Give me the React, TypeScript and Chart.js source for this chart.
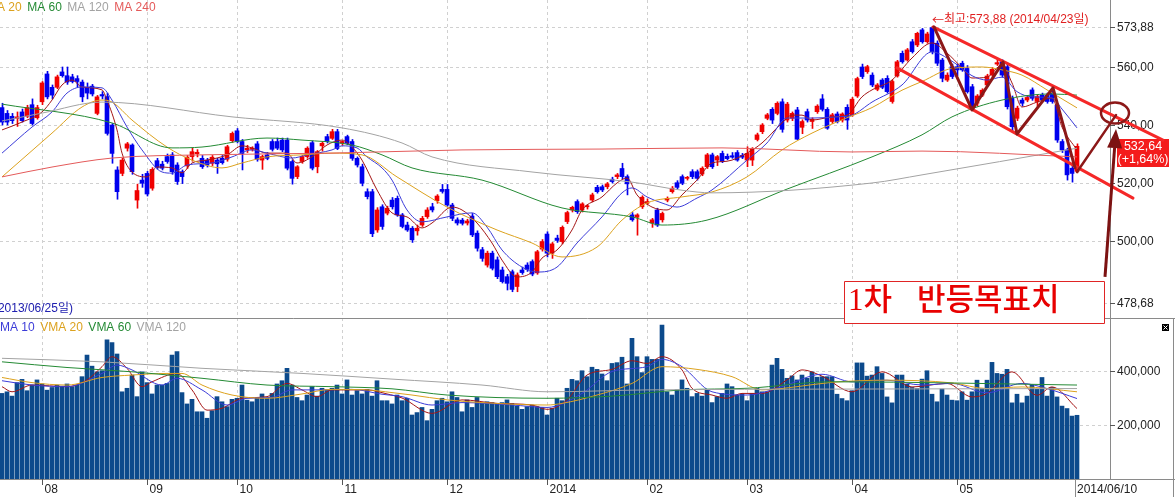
import React, { useEffect, useRef } from 'react';
import { Chart, registerables } from 'chart.js';

Chart.register(...registerables);

// ---------------- data (daily candles, 216 sessions) ----------------
const openP = [
  546.0, 544.0, 543.0, 542.3, 544.5, 543.0, 547.0, 542.5, 548.0, 557.6,
  553.0, 553.0, 558.3, 557.0, 556.6, 556.0, 554.8, 553.0, 553.4, 544.0,
  550.5, 549.8, 540.0, 524.5, 523.3, 532.0, 533.1, 514.1, 521.0, 523.3,
  518.2, 527.7, 526.5, 529.1, 529.7, 526.2, 523.9, 525.9, 529.1, 530.1,
  528.5, 527.9, 526.8, 527.9, 528.5, 528.2, 534.6, 538.0, 534.3, 531.4,
  531.6, 533.5, 527.9, 529.7, 534.3, 534.3, 534.8, 534.8, 527.4, 522.2,
  527.4, 529.1, 533.9, 525.6, 532.8, 536.0, 535.4, 537.7, 533.7, 536.0,
  534.3, 528.5, 525.6, 517.0, 517.0, 503.8, 511.8, 509.6, 514.1, 514.7,
  509.0, 505.5, 504.4, 503.5, 505.5, 508.4, 511.8, 513.9, 517.8, 517.8,
  512.4, 507.3, 507.2, 506.2, 508.6, 502.7, 497.0, 491.7, 495.8, 493.5,
  490.0, 487.7, 489.4, 484.3, 490.0, 491.7, 492.9, 489.0, 497.2, 502.4,
  495.8, 501.0, 499.8, 506.7, 510.7, 513.6, 510.7, 511.8, 514.1, 518.5,
  518.7, 518.7, 521.3, 522.2, 525.0, 522.2, 509.0, 508.2, 511.8, 513.0,
  506.2, 510.7, 507.3, 514.1, 517.0, 520.1, 522.2, 521.6, 523.9, 523.9,
  523.1, 525.6, 529.7, 527.9, 530.2, 529.2, 529.4, 530.5, 529.5, 527.9,
  527.9, 535.0, 537.7, 542.3, 545.4, 544.0, 548.0, 541.7, 542.3, 545.2,
  539.2, 544.6, 541.2, 544.6, 549.0, 545.4, 541.2, 543.8, 541.7, 546.1,
  543.5, 550.0, 560.0, 558.4, 557.2, 552.3, 555.5, 556.1, 548.1, 556.9,
  564.7, 562.4, 568.7, 567.6, 572.8, 568.7, 573.6, 568.2, 562.4, 555.5,
  560.1, 560.1, 561.3, 559.5, 553.2, 547.5, 550.3, 553.8, 557.2, 561.0,
  561.8, 560.1, 549.2, 542.3, 548.6, 548.6, 552.1, 548.1, 550.3, 550.3,
  551.5, 546.9, 534.3, 531.4, 525.1, 524.0,
];
const highP = [
  547.5, 545.0, 544.0, 544.5, 545.5, 546.8, 549.0, 546.8, 555.0, 558.5,
  553.8, 557.2, 560.0, 560.0, 557.5, 557.0, 555.5, 554.5, 554.0, 550.2,
  551.5, 551.0, 540.5, 525.6, 528.5, 534.0, 533.5, 519.6, 523.0, 524.0,
  525.3, 528.5, 527.5, 530.0, 530.5, 527.0, 524.5, 529.5, 532.0, 531.5,
  529.5, 528.5, 529.5, 528.5, 529.5, 533.0, 537.6, 538.8, 535.0, 533.0,
  532.5, 534.3, 529.6, 530.5, 535.0, 535.5, 535.5, 535.5, 528.0, 526.0,
  529.5, 532.5, 534.5, 531.2, 534.2, 536.8, 538.5, 538.5, 534.5, 536.5,
  535.0, 529.0, 526.5, 518.0, 517.8, 511.5, 512.5, 512.0, 515.0, 515.5,
  509.5, 506.5, 505.0, 505.5, 508.5, 511.5, 513.0, 516.0, 519.5, 519.5,
  513.0, 508.0, 507.8, 507.5, 509.5, 503.5, 497.8, 496.5, 496.5, 494.5,
  491.0, 488.5, 490.0, 489.0, 491.0, 492.5, 493.5, 496.8, 500.5, 503.2,
  499.5, 502.0, 505.2, 510.3, 512.0, 514.2, 513.2, 512.5, 516.5, 519.2,
  519.3, 520.2, 522.0, 523.3, 526.8, 522.8, 509.8, 509.4, 515.6, 514.5,
  507.8, 511.3, 510.0, 515.2, 518.8, 520.8, 522.8, 522.3, 524.6, 524.5,
  525.6, 530.2, 530.3, 529.5, 531.0, 530.0, 530.5, 531.2, 530.2, 532.5,
  532.2, 537.2, 540.5, 544.0, 546.0, 548.0, 549.0, 547.8, 544.5, 546.1,
  541.8, 545.5, 542.5, 547.0, 550.5, 546.0, 544.0, 544.5, 544.2, 547.0,
  549.5, 556.5, 561.0, 560.6, 558.0, 554.3, 556.0, 557.0, 555.5, 562.3,
  565.5, 566.4, 569.5, 572.0, 573.3, 572.0, 573.88, 569.0, 563.0, 558.0,
  561.0, 561.0, 562.0, 560.5, 554.0, 550.5, 552.5, 557.5, 559.8, 562.9,
  562.5, 561.0, 550.0, 546.5, 549.3, 550.2, 552.8, 550.4, 551.0, 551.0,
  552.8, 547.5, 535.0, 532.0, 526.0, 533.5,
];
const lowP = [
  540.0, 540.0, 540.5, 539.5, 541.0, 542.5, 540.0, 542.0, 547.0, 549.0,
  549.0, 552.5, 556.5, 554.0, 554.5, 553.0, 548.0, 549.0, 550.0, 543.5,
  549.0, 536.5, 526.8, 514.4, 522.5, 531.0, 523.0, 511.3, 518.5, 515.5,
  517.5, 524.8, 524.5, 526.8, 523.0, 519.5, 519.8, 525.0, 527.5, 529.0,
  525.0, 525.5, 526.0, 523.3, 526.5, 527.5, 534.0, 533.8, 524.5, 530.5,
  531.0, 527.5, 524.7, 528.0, 531.0, 531.5, 530.8, 524.5, 519.6, 521.5,
  526.8, 528.5, 524.5, 523.5, 531.0, 533.8, 535.0, 531.5, 533.0, 533.2,
  527.8, 525.5, 519.0, 514.5, 501.5, 503.0, 504.0, 509.0, 511.0, 508.5,
  504.5, 503.3, 499.5, 502.0, 505.0, 507.8, 510.0, 513.0, 516.5, 512.0,
  507.0, 505.5, 505.5, 505.5, 501.5, 496.5, 493.0, 491.0, 490.0, 487.0,
  485.5, 483.1, 482.5, 482.5, 488.5, 489.5, 488.0, 488.5, 496.5, 494.5,
  494.0, 499.5, 499.0, 506.0, 510.0, 509.5, 510.0, 511.0, 513.5, 516.5,
  517.0, 518.0, 520.0, 521.5, 521.5, 515.9, 506.8, 502.0, 511.2, 512.5,
  504.7, 505.0, 506.5, 513.5, 516.5, 518.0, 519.4, 521.0, 521.5, 521.0,
  522.5, 525.0, 525.0, 526.0, 527.0, 528.0, 528.5, 527.5, 528.4, 525.6,
  526.0, 534.5, 537.0, 541.8, 540.5, 543.5, 537.5, 541.0, 541.5, 535.0,
  537.0, 541.0, 538.8, 544.0, 544.8, 538.5, 540.5, 540.7, 541.0, 538.5,
  543.0, 549.5, 556.0, 557.8, 553.2, 551.8, 552.5, 551.0, 547.5, 556.5,
  561.3, 562.0, 564.8, 567.0, 568.2, 568.2, 564.5, 560.5, 554.9, 555.0,
  556.0, 557.0, 558.5, 551.0, 545.0, 546.5, 549.8, 553.2, 556.8, 560.5,
  556.5, 545.5, 537.7, 541.5, 546.5, 548.0, 548.5, 546.5, 548.0, 547.5,
  547.5, 534.0, 530.5, 521.0, 520.3, 523.5,
];
const closeP = [
  541.0, 541.0, 541.5, 542.8, 541.5, 546.0, 540.5, 546.0, 554.5, 549.7,
  550.3, 556.6, 557.0, 554.8, 555.0, 555.0, 549.7, 551.0, 550.7, 549.7,
  550.0, 537.1, 530.2, 517.0, 527.9, 533.5, 523.9, 517.4, 519.9, 516.2,
  524.7, 525.4, 525.1, 527.4, 523.9, 520.5, 522.2, 528.9, 530.8, 530.6,
  525.6, 526.2, 528.9, 526.6, 527.0, 532.5, 537.1, 534.3, 530.2, 532.0,
  532.0, 528.2, 529.1, 528.5, 531.6, 532.0, 531.4, 525.1, 521.6, 525.6,
  529.1, 532.0, 525.1, 530.8, 533.7, 534.3, 537.7, 531.9, 534.3, 533.7,
  528.5, 526.2, 519.9, 515.3, 502.5, 510.7, 505.0, 511.3, 511.8, 509.0,
  505.0, 503.8, 500.4, 504.4, 507.8, 510.7, 510.7, 515.5, 517.1, 512.4,
  507.8, 506.2, 506.1, 506.9, 502.1, 497.5, 494.0, 495.8, 490.6, 487.7,
  486.0, 485.4, 483.3, 488.3, 489.1, 490.2, 488.6, 496.3, 499.8, 495.8,
  499.0, 500.2, 504.7, 509.8, 511.6, 510.1, 512.8, 512.1, 515.9, 517.0,
  517.6, 519.7, 520.5, 522.8, 522.2, 519.7, 507.3, 509.0, 515.1, 513.6,
  507.3, 505.5, 509.5, 514.7, 518.2, 518.5, 519.9, 521.9, 522.2, 521.6,
  525.1, 529.7, 525.6, 529.1, 527.4, 528.4, 528.9, 527.9, 528.9, 530.2,
  531.6, 536.6, 540.0, 543.5, 541.7, 547.5, 538.5, 547.2, 544.0, 535.1,
  541.2, 541.7, 542.0, 546.5, 545.4, 538.9, 543.5, 541.2, 543.8, 541.7,
  548.9, 556.0, 556.7, 560.1, 553.8, 553.8, 553.0, 551.5, 555.0, 561.8,
  561.8, 565.9, 565.3, 571.6, 568.7, 571.4, 565.3, 561.3, 556.1, 557.2,
  556.7, 559.0, 559.0, 551.5, 545.8, 550.0, 552.0, 556.9, 559.2, 561.5,
  557.2, 546.3, 539.4, 545.8, 547.5, 549.5, 549.2, 549.8, 548.6, 548.1,
  548.1, 534.8, 531.4, 522.8, 523.3, 532.64,
];
// volume in thousands of shares
const volumeK = [
  317, 323, 307, 357, 369, 327, 348, 367, 352, 329,
  339, 348, 344, 352, 342, 348, 379, 459, 418, 397,
  401, 515, 505, 463, 323, 336, 385, 305, 397, 357,
  315, 348, 348, 354, 459, 472, 320, 278, 295, 249,
  249, 225, 253, 305, 286, 268, 295, 299, 348, 292,
  286, 299, 315, 299, 317, 352, 364, 410, 348, 302,
  290, 311, 342, 307, 336, 329, 336, 348, 315, 367,
  311, 327, 315, 332, 307, 364, 290, 290, 278, 311,
  290, 299, 237, 246, 265, 216, 258, 290, 299, 286,
  323, 302, 249, 293, 265, 302, 280, 286, 283, 280,
  283, 293, 280, 270, 258, 268, 274, 268, 265, 237,
  262, 299, 290, 336, 369, 364, 401, 379, 414, 406,
  389, 364, 428, 431, 451, 352, 521, 453, 394, 453,
  443, 443, 570, 323, 311, 330, 367, 336, 305, 317,
  307, 330, 283, 305, 317, 352, 342, 311, 315, 290,
  317, 336, 323, 323, 422, 447, 406, 373, 382, 367,
  385, 373, 397, 377, 379, 379, 379, 314, 298, 290,
  327, 430, 430, 381, 385, 416, 391, 304, 282, 385,
  385, 351, 339, 335, 370, 401, 314, 286, 333, 311,
  292, 290, 323, 292, 323, 366, 335, 366, 432, 391,
  388, 406, 282, 314, 282, 307, 348, 332, 376, 307,
  339, 304, 270, 261, 233, 236,
];

// moving averages (session index, value)
const ma5Idx = [0, 4, 8, 10, 12, 14, 16, 20, 21, 23, 24, 26, 29, 31, 34, 36, 38, 41, 45, 48, 50, 53, 57, 59, 62, 65, 68, 70, 72, 75, 78, 81, 84, 86, 90, 92, 95, 98, 100, 103, 106, 108, 111, 114, 116, 120, 123, 125, 127, 130, 133, 136, 139, 142, 145, 149, 152, 156, 158, 160, 162, 166, 169, 172, 174, 178, 182, 186, 189, 192, 194, 197, 200, 202, 204, 207, 210, 212, 215];
const ma5Val = [538.3, 541, 544.5, 548.6, 553.8, 555.5, 553.1, 552.1, 548.6, 538.3, 530.3, 523.8, 522.1, 525.5, 525.2, 523.5, 526.9, 527.9, 529.7, 532.8, 532.1, 530.3, 530.3, 526.9, 529, 533.1, 534.8, 532.4, 527.9, 517.6, 509.7, 508.3, 504.5, 506.2, 511.7, 510.7, 506.2, 499.3, 493.4, 487.6, 489.3, 494.1, 496.9, 503.8, 510.7, 515.2, 520, 521.7, 515.9, 511.7, 510.7, 515.9, 521, 526.9, 527.5, 530.3, 533.8, 540.7, 543.4, 543.4, 541.7, 542.8, 543.4, 549.7, 552.1, 555.5, 563.1, 568.3, 564.8, 559.7, 556.2, 556.5, 560.7, 554.5, 546.2, 547.9, 549.3, 539.3, 531.4];
const ma10Idx = [0, 6, 10, 13, 16, 20, 22, 25, 28, 32, 34, 37, 42, 46, 50, 53, 58, 61, 66, 68, 71, 73, 76, 78, 81, 84, 89, 94, 97, 100, 104, 107, 111, 115, 120, 124, 126, 129, 132, 135, 139, 142, 149, 153, 157, 162, 167, 170, 174, 180, 186, 190, 194, 197, 200, 203, 206, 210, 212, 215];
const ma10Val = [530.3, 539.3, 544.5, 551, 553.1, 552.8, 548.6, 539.3, 531.4, 523.8, 523.4, 526.2, 526.9, 529, 531.4, 530.3, 528.6, 529.7, 531.4, 532.8, 532.1, 529, 525.2, 521, 510.7, 506.6, 508.3, 509.7, 504.8, 496.9, 491, 489.3, 491, 499.3, 508.3, 516.6, 518.3, 515.2, 513.1, 511.7, 514.8, 517.6, 527.9, 533.8, 542.4, 542.4, 542.8, 543.4, 547.9, 553.8, 565.2, 562, 557, 555.5, 556.5, 551.5, 549.7, 549.3, 545.5, 539];
const ma20Idx = [0, 10, 16, 20, 22, 26, 33, 38, 44, 48, 53, 60, 66, 72, 79, 89, 99, 106, 112, 119, 124, 129, 136, 142, 149, 156, 162, 169, 174, 180, 184, 190, 196, 200, 204, 209, 215];
const ma20Val = [522.1, 537.2, 546.2, 548.6, 547.9, 541.7, 532.4, 527.9, 525.2, 526.9, 529, 529.7, 530.3, 529.7, 522.1, 511.7, 503.8, 499.3, 494.5, 497.9, 507.2, 513.1, 515.2, 516.9, 522.1, 531.4, 537.2, 542.5, 546, 552, 555, 559.5, 560, 559, 557.2, 552.1, 545.9];
const ma60Idx = [0, 22, 34, 40, 53, 60, 70, 76, 82, 96, 112, 126, 132, 141, 157, 174, 184, 190, 200, 210, 215];
const ma60Val = [547.2, 540.7, 532.1, 532.4, 535.5, 534.8, 533.1, 529.7, 525.2, 521, 511.4, 508.3, 505.5, 507.2, 517.9, 529, 536.6, 542.8, 548.6, 550.7, 550.3];
const ma120Idx = [0, 8, 20, 46, 68, 80, 86, 106, 126, 136, 142, 174, 184, 215];
const ma120Val = [541.4, 544.1, 547.9, 542.8, 539, 533.8, 529, 523.8, 520.3, 517.5, 516.6, 520, 522.8, 532];
const ma240Idx = [0, 10, 22, 40, 66, 92, 120, 144, 170, 184, 215];
const ma240Val = [522.1, 525.5, 528.6, 529.7, 530.3, 531.4, 531.7, 532.1, 530.7, 531, 529];

const vma5Idx = [0, 2, 6, 13, 17, 20, 22, 25, 28, 30, 35, 38, 41, 44, 48, 53, 57, 60, 63, 66, 73, 77, 80, 86, 92, 99, 106, 109, 113, 117, 122, 126, 129, 132, 136, 138, 142, 145, 148, 152, 157, 160, 164, 170, 176, 182, 189, 194, 197, 202, 207, 210, 215];
const vma5Val = [342, 323, 348, 342, 367, 416, 453, 410, 342, 360, 391, 330, 255, 262, 299, 305, 354, 330, 305, 330, 330, 315, 300, 243, 293, 280, 274, 258, 293, 385, 406, 438, 428, 453, 404, 336, 311, 299, 317, 317, 367, 404, 381, 323, 397, 341, 354, 304, 317, 397, 310, 341, 261];
const vma10Idx = [0, 6, 13, 20, 23, 26, 32, 35, 40, 45, 49, 54, 58, 63, 70, 76, 80, 86, 92, 102, 109, 116, 122, 129, 132, 136, 142, 149, 156, 164, 170, 177, 184, 190, 197, 204, 209, 215];
const vma10Val = [364, 348, 342, 391, 422, 404, 348, 373, 330, 274, 299, 302, 330, 330, 332, 314, 305, 274, 283, 274, 265, 317, 398, 416, 443, 416, 323, 311, 342, 388, 360, 366, 348, 354, 319, 354, 335, 298];
const vma20Idx = [0, 6, 13, 20, 26, 33, 36, 40, 46, 53, 60, 66, 73, 78, 82, 89, 96, 109, 112, 119, 126, 132, 139, 146, 152, 159, 166, 177, 190, 197, 204, 215];
const vma20Val = [376, 357, 348, 376, 385, 391, 391, 348, 311, 299, 315, 332, 330, 320, 311, 293, 283, 274, 280, 311, 354, 416, 406, 379, 330, 342, 358, 366, 356, 335, 341, 323];
const vma60Idx = [0, 13, 26, 40, 53, 66, 78, 89, 109, 122, 136, 149, 166, 215];
const vma60Val = [434, 413, 397, 373, 348, 342, 334, 311, 299, 307, 330, 336, 360, 348];
const vma120Idx = [0, 20, 40, 60, 78, 96, 109, 129, 168, 215];
const vma120Val = [447, 434, 410, 391, 370, 348, 323, 330, 333, 335];

// axis ticks
const monthTickIdx = [8, 29, 47, 68, 89, 109, 129, 149, 170, 191];
const monthLabels = ['08', '09', '10', '11', '12', '2014', '02', '03', '04', '05'];
const lastDateLabel = '2014/06/10';
const priceTicks = [478.68, 500, 520, 540, 560, 573.88];
const priceTickLabels = ['478,68', '500,00', '520,00', '540,00', '560,00', '573,88'];
const volTicksK = [200, 400];
const volTickLabels = ['200,000', '400,000'];

// legends / notes
const maLegend = ['MA 20', 'MA 60', 'MA 120', 'MA 240'];
const vmaLegend = ['VMA 10', 'VMA 20', 'VMA 60', 'VMA 120'];
const highArrow = '←';
const highNote = '최고:573,88 (2014/04/23일)';
const lowNote = '최저:478,68 (2013/06/25일)';
const lastPriceText = '532,64';
const lastChangeText = '(+1,64%)';
const targetText1 = '1차';
const targetText2 = '반등목표치';

// drawn annotations in (session index, price)
const channelUpper = [[186.2, 573.8], [232.2, 534.8]];
const channelLower = [[179, 559.7], [226.2, 514.8]];
const zigzag = [[186.4, 573.8], [194, 545.2], [200.2, 561.7], [203, 536.9], [210.2, 552.8], [214.6, 525.2]];
const reboundLine = [[215, 523.8], [222.8, 543.4]];
const targetCircle = [222.6, 544.1];
const bigArrow = [[220.6, 487.6], [222.8, 538.6]];

// ---------------- styling / layout ----------------
const W = 1175;
const H = 497;
const AREA_R = 1110;
const AREA_B = 479;
const SPLIT_Y = 318;
const X_MIN = -0.4;
const X_MAX = 221.6;
const PRICE_MIN = 417.93;
const PRICE_MAX = 583.1;
const VOL_MAX_K = 1774.07;

const UP = '#f00000';
const DOWN = '#0000ee';
const VOL_COLOR = '#0c4a8c';
const C_MA5 = '#a41515';
const C_MA10 = '#3c3cd8';
const C_MA20 = '#dca21e';
const C_MA60 = '#248a34';
const C_MA120 = '#a3a3a3';
const C_MA240 = '#e45a5a';
const FONT = '"Liberation Sans", "Noto Sans CJK KR", Arial, sans-serif';

function seg(ctx: CanvasRenderingContext2D, x1: number, y1: number, x2: number, y2: number) {
  ctx.beginPath();
  ctx.moveTo(x1, y1);
  ctx.lineTo(x2, y2);
  ctx.stroke();
}

const decoPlugin = {
  id: 'deco',
  beforeDatasetsDraw(chart: any) {
    const { ctx, scales } = chart;
    const sx = scales.x, sy = scales.y, sv = scales.yv;
    ctx.save();
    ctx.lineWidth = 1;
    ctx.strokeStyle = '#d0d0d0';
    ctx.setLineDash([3, 3]);
    priceTicks.forEach((v) => {
      const py = Math.round(sy.getPixelForValue(v)) + 0.5;
      seg(ctx, 0, py, AREA_R, py);
    });
    volTicksK.forEach((v) => {
      const py = Math.round(sv.getPixelForValue(v)) + 0.5;
      seg(ctx, 0, py, AREA_R, py);
    });
    monthTickIdx.forEach((m) => {
      const px = Math.round(sx.getPixelForValue(m)) + 0.5;
      seg(ctx, px, 0, px, AREA_B);
    });
    ctx.restore();
  },
  afterDraw(chart: any) {
    const { ctx, scales } = chart;
    const sx = scales.x, sy = scales.y, sv = scales.yv;
    const P = (pt: number[]) => [sx.getPixelForValue(pt[0]), sy.getPixelForValue(pt[1])];
    ctx.save();
    ctx.setLineDash([]);

    // frame
    ctx.strokeStyle = '#8a8a8a';
    ctx.lineWidth = 1;
    seg(ctx, 0, SPLIT_Y + 0.5, W, SPLIT_Y + 0.5);
    seg(ctx, 0, AREA_B + 0.5, W, AREA_B + 0.5);
    seg(ctx, AREA_R + 0.5, 0, AREA_R + 0.5, AREA_B);
    seg(ctx, W - 1.5, SPLIT_Y, W - 1.5, H);
    seg(ctx, 1075.5, AREA_B, 1075.5, H);

    // right axis labels
    ctx.font = '12px ' + FONT;
    ctx.textBaseline = 'middle';
    ctx.textAlign = 'left';
    ctx.fillStyle = '#222';
    ctx.strokeStyle = '#555';
    priceTicks.forEach((v, k) => {
      const py = Math.round(sy.getPixelForValue(v)) + 0.5;
      seg(ctx, AREA_R, py, AREA_R + 5, py);
      ctx.fillText(priceTickLabels[k], AREA_R + 7, py);
    });
    volTicksK.forEach((v, k) => {
      const py = Math.round(sv.getPixelForValue(v)) + 0.5;
      seg(ctx, AREA_R, py, AREA_R + 5, py);
      ctx.fillText(volTickLabels[k], AREA_R + 7, py);
    });

    // bottom axis labels
    monthTickIdx.forEach((m, k) => {
      const px = Math.round(sx.getPixelForValue(m)) + 0.5;
      seg(ctx, px, AREA_B, px, AREA_B + 6);
      ctx.fillText(monthLabels[k], px + 2, 490);
    });
    ctx.fillText(lastDateLabel, 1077, 490);

    // legends
    const drawLegend = (items: string[], colors: string[], x0: number, y: number) => {
      let x = x0;
      items.forEach((t, k) => {
        ctx.fillStyle = colors[k];
        ctx.fillText(t, x, y);
        x += ctx.measureText(t).width + 5.5;
      });
    };
    drawLegend(maLegend, [C_MA20, C_MA60, C_MA120, C_MA240], -13, 8);
    drawLegend(vmaLegend, [C_MA10, C_MA20, C_MA60, C_MA120], -8, 328);

    // min / max notes
    ctx.fillStyle = '#e02020';
    ctx.font = '12px "Noto Sans CJK KR", sans-serif';
    ctx.fillText(highArrow, 932, 20);
    const aw = ctx.measureText(highArrow).width;
    ctx.font = '12px ' + FONT;
    ctx.fillText(highNote, 932 + aw, 20);
    ctx.fillStyle = '#2020b0';
    ctx.textAlign = 'right';
    ctx.fillText(lowNote, 73, 309);

    // close icon in volume pane
    ctx.fillStyle = '#000';
    ctx.fillRect(1162, 324, 7, 7);
    ctx.strokeStyle = '#fff';
    ctx.lineWidth = 1;
    seg(ctx, 1163.5, 325.5, 1167.5, 329.5);
    seg(ctx, 1167.5, 325.5, 1163.5, 329.5);

    // last price box
    ctx.fillStyle = '#f41c1c';
    ctx.fillRect(1117, 139, 52, 28);
    ctx.fillStyle = '#fff';
    ctx.textAlign = 'center';
    ctx.font = '12.5px ' + FONT;
    ctx.fillText(lastPriceText, 1143, 147);
    ctx.fillText(lastChangeText, 1143, 160);

    // annotations
    ctx.lineCap = 'round';
    ctx.lineJoin = 'round';
    const poly = (pts: number[][]) => {
      ctx.beginPath();
      pts.forEach((p, k) => {
        const [px, py] = P(p);
        if (k === 0) ctx.moveTo(px, py);
        else ctx.lineTo(px, py);
      });
      ctx.stroke();
    };
    ctx.strokeStyle = '#f52828';
    ctx.lineWidth = 3;
    poly(channelUpper);
    poly(channelLower);
    ctx.strokeStyle = '#8c1818';
    ctx.lineWidth = 3;
    poly(zigzag);
    ctx.lineWidth = 2.5;
    poly(reboundLine);
    const [cx, cy] = P(targetCircle);
    ctx.lineWidth = 2.5;
    ctx.beginPath();
    ctx.ellipse(cx, cy, 14, 10.5, 0, 0, Math.PI * 2);
    ctx.stroke();

    // big arrow
    const [ax, ay] = P(bigArrow[0]);
    const [tx, ty] = P(bigArrow[1]);
    const dx = tx - ax, dy = ty - ay;
    const len = Math.hypot(dx, dy);
    const ux = dx / len, uy = dy / len;
    const headL = 19, headW = 7.5;
    const bx = tx - ux * headL, by = ty - uy * headL;
    ctx.strokeStyle = '#7c1212';
    ctx.lineWidth = 3;
    ctx.lineCap = 'butt';
    seg(ctx, ax, ay, bx, by);
    ctx.fillStyle = '#7c1212';
    ctx.beginPath();
    ctx.moveTo(tx, ty);
    ctx.lineTo(bx - uy * headW, by + ux * headW);
    ctx.lineTo(bx + uy * headW, by - ux * headW);
    ctx.closePath();
    ctx.fill();

    // target text box
    ctx.fillStyle = '#fff';
    ctx.fillRect(844, 281, 261, 43);
    ctx.strokeStyle = '#e02424';
    ctx.lineWidth = 1;
    ctx.strokeRect(844.5, 281.5, 260, 42);
    ctx.fillStyle = '#e80000';
    ctx.textAlign = 'left';
    ctx.textBaseline = 'middle';
    ctx.font = '500 31px "Liberation Serif", "Noto Sans CJK KR", serif';
    ctx.fillText(targetText1, 848, 302);
    ctx.fillText(targetText2, 917, 302);

    ctx.restore();
  },
};

const lineDs = (idxArr: number[], valArr: number[], color: string, yAxisID: string) => ({
  type: 'line' as const,
  data: idxArr.map((x, k) => ({ x, y: valArr[k] })),
  xAxisID: 'x',
  yAxisID,
  borderColor: color,
  borderWidth: 1,
  pointRadius: 0,
  cubicInterpolationMode: 'monotone' as const,
  fill: false,
  order: 1,
});

export default function App() {
  const ref = useRef<HTMLCanvasElement>(null);

  useEffect(() => {
    document.body.style.margin = '0';
    const colors = closeP.map((c, i) => (c >= openP[i] ? UP : DOWN));
    const chart = new Chart(ref.current as HTMLCanvasElement, {
      type: 'bar',
      data: {
        datasets: [
          {
            type: 'bar',
            data: volumeK.map((v, i) => ({ x: i, y: v })),
            xAxisID: 'x',
            yAxisID: 'yv',
            backgroundColor: VOL_COLOR,
            barThickness: 4,
            grouped: false,
            order: 10,
          } as any,
          lineDs(vma120Idx, vma120Val, C_MA120, 'yv'),
          lineDs(vma60Idx, vma60Val, C_MA60, 'yv'),
          lineDs(vma20Idx, vma20Val, C_MA20, 'yv'),
          lineDs(vma10Idx, vma10Val, C_MA10, 'yv'),
          lineDs(vma5Idx, vma5Val, C_MA5, 'yv'),
          {
            type: 'bar',
            data: closeP.map((_, i) => ({ x: i, y: [lowP[i], highP[i]] })),
            xAxisID: 'xw',
            yAxisID: 'y',
            backgroundColor: colors,
            barThickness: 1,
            grouped: false,
            order: 6,
          } as any,
          {
            type: 'bar',
            data: closeP.map((c, i) => ({ x: i, y: [openP[i], c] })),
            xAxisID: 'x',
            yAxisID: 'y',
            backgroundColor: colors,
            barThickness: 4,
            minBarLength: 1,
            grouped: false,
            order: 5,
          } as any,
          lineDs(ma240Idx, ma240Val, C_MA240, 'y'),
          lineDs(ma120Idx, ma120Val, C_MA120, 'y'),
          lineDs(ma60Idx, ma60Val, C_MA60, 'y'),
          lineDs(ma20Idx, ma20Val, C_MA20, 'y'),
          lineDs(ma10Idx, ma10Val, C_MA10, 'y'),
          lineDs(ma5Idx, ma5Val, C_MA5, 'y'),
        ] as any,
      },
      options: {
        animation: false,
        responsive: false,
        maintainAspectRatio: false,
        events: [],
        layout: { padding: { left: 0, top: 0, right: W - AREA_R, bottom: H - AREA_B } },
        plugins: { legend: { display: false }, tooltip: { enabled: false } },
        scales: {
          x: { type: 'linear', min: X_MIN, max: X_MAX, display: false, offset: false },
          xw: { type: 'linear', min: X_MIN - 0.1, max: X_MAX - 0.1, display: false, offset: false },
          y: { type: 'linear', min: PRICE_MIN, max: PRICE_MAX, display: false, beginAtZero: false },
          yv: { type: 'linear', min: 0, max: VOL_MAX_K, display: false },
        },
      } as any,
      plugins: [decoPlugin],
    });
    return () => chart.destroy();
  }, []);

  return (
    <div style={{ position: 'fixed', left: 0, top: 0, width: W, height: H, background: '#fff' }}>
      <canvas ref={ref} width={W} height={H} style={{ display: 'block', width: W, height: H }} />
    </div>
  );
}
